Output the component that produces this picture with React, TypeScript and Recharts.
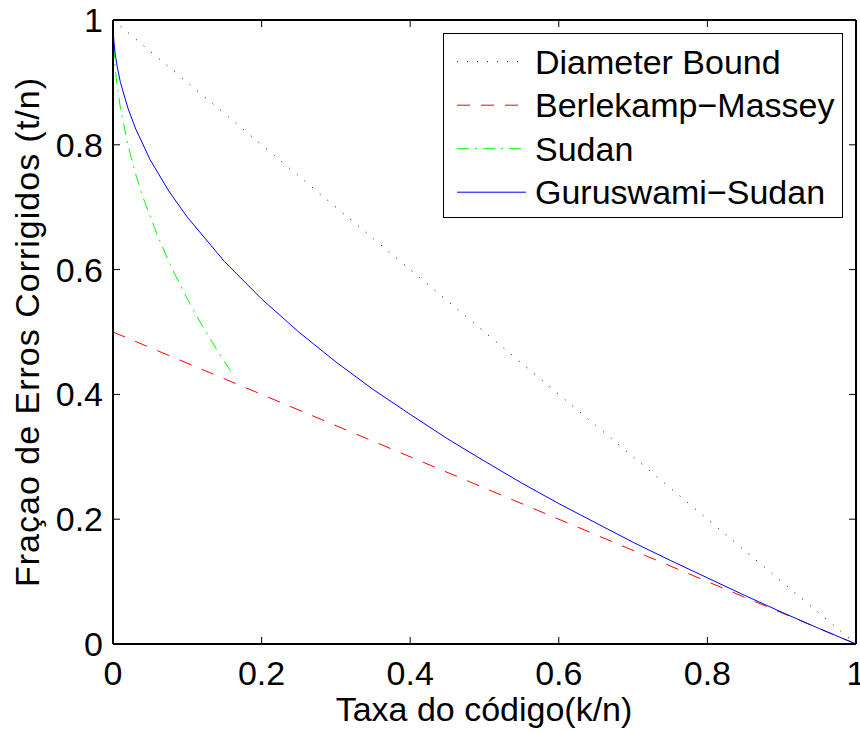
import { Legend, Line, LineChart, XAxis, YAxis } from "recharts";

// taxa do código (k/n) e fração de erros corrigidos (t/n)
const diameterX = [0, 1];
const diameterY = [1, 0];

const bmX = [0, 1];
const bmY = [0.5, 0];

const sudanX = [0, 0.002, 0.005, 0.01, 0.02, 0.03, 0.04, 0.06, 0.08, 0.1, 0.12, 0.14, 0.163];
const sudanY = [1, 0.937, 0.9, 0.859, 0.8, 0.755, 0.717, 0.654, 0.6, 0.553, 0.51, 0.471, 0.429];

const gsX = [
  0, 0.001, 0.003, 0.006, 0.01, 0.02, 0.03, 0.05, 0.075, 0.1, 0.15, 0.2, 0.25, 0.3, 0.35, 0.4,
  0.45, 0.5, 0.55, 0.6, 0.65, 0.7, 0.75, 0.8, 0.85, 0.9, 0.95, 1,
];
const gsY = [
  1, 0.968, 0.945, 0.923, 0.9, 0.859, 0.827, 0.776, 0.726, 0.684, 0.613, 0.553, 0.5, 0.452, 0.408,
  0.368, 0.329, 0.293, 0.258, 0.225, 0.194, 0.163, 0.134, 0.106, 0.078, 0.051, 0.025, 0,
];

const xTicks = [0, 0.2, 0.4, 0.6, 0.8, 1];
const yTicks = [0, 0.2, 0.4, 0.6, 0.8, 1];

const toPoints = (xs: number[], ys: number[]) => xs.map((x, i) => ({ x, y: ys[i] }));

// a primeira série fica presa aos eixos de cima/direita para que a caixa seja desenhada
const series = [
  { name: "Diameter Bound", color: "#000000", dash: "1 9", data: toPoints(diameterX, diameterY), xId: "top", yId: "right" },
  { name: "Berlekamp\u2212Massey", color: "#ff0000", dash: "13 11", data: toPoints(bmX, bmY), xId: 0, yId: 0 },
  { name: "Sudan", color: "#00ff00", dash: "12 6 2 6", data: toPoints(sudanX, sudanY), xId: 0, yId: 0 },
  { name: "Guruswami\u2212Sudan", color: "#0000ff", dash: undefined, data: toPoints(gsX, gsY), xId: 0, yId: 0 },
];

const FONT = "'Liberation Sans', Arial, Helvetica, sans-serif";
const FS = 34;

// eixos de 1px: com tickSize 0 o (x, y) do tick cai sobre a linha do eixo
function BottomTick({ x, y, payload }: any) {
  return (
    <g>
      <line x1={x} x2={x} y1={y} y2={y - 7} stroke="#000" strokeWidth={1} />
      <text x={x} y={y + 41} textAnchor="middle" fontSize={FS} fontFamily={FONT} fill="#000">
        {String(payload.value)}
      </text>
    </g>
  );
}

function TopTick({ x, y }: any) {
  return <line x1={x} x2={x} y1={y} y2={y + 7} stroke="#000" strokeWidth={1} />;
}

function LeftTick({ x, y, payload }: any) {
  return (
    <g>
      <line x1={x} x2={x + 7} y1={y} y2={y} stroke="#000" strokeWidth={1} />
      <text x={x - 10} y={y + 12} textAnchor="end" fontSize={FS} fontFamily={FONT} fill="#000">
        {String(payload.value)}
      </text>
    </g>
  );
}

function RightTick({ x, y }: any) {
  return <line x1={x} x2={x - 7} y1={y} y2={y} stroke="#000" strokeWidth={1} />;
}

function LegendBox() {
  return (
    <svg width={400} height={185} style={{ display: "block" }}>
      <rect x={0.5} y={0.5} width={399} height={184} fill="#fff" stroke="#000" strokeWidth={1} />
      {series.map((s, i) => {
        const cy = 28.7 + i * 43.5;
        return (
          <g key={s.name}>
            <line x1={14} x2={83} y1={cy} y2={cy} stroke={s.color} strokeWidth={1} strokeDasharray={s.dash} />
            <text x={92} y={cy + 12} fontSize={FS} fontFamily={FONT} fill="#000">
              {s.name}
            </text>
          </g>
        );
      })}
    </svg>
  );
}

const axisLine = { stroke: "#000", strokeWidth: 2 };

export default function App() {
  return (
    <div style={{ position: "absolute", left: 0, top: 0, width: 860, height: 732, background: "#fff" }}>
      <LineChart width={860} height={732} margin={{ top: 19, right: 3, bottom: 87, left: 112 }}>
        <XAxis
          dataKey="x"
          type="number"
          domain={[0, 1]}
          ticks={xTicks}
          height={1}
          tickSize={0}
          tickMargin={0}
          tickLine={false}
          axisLine={axisLine}
          tick={<BottomTick />}
        />
        <XAxis
          xAxisId="top"
          orientation="top"
          dataKey="x"
          type="number"
          domain={[0, 1]}
          ticks={xTicks}
          height={1}
          tickSize={0}
          tickMargin={0}
          tickLine={false}
          axisLine={axisLine}
          tick={<TopTick />}
        />
        <YAxis
          type="number"
          domain={[0, 1]}
          ticks={yTicks}
          width={1}
          tickSize={0}
          tickMargin={0}
          tickLine={false}
          axisLine={axisLine}
          tick={<LeftTick />}
        />
        <YAxis
          yAxisId="right"
          orientation="right"
          type="number"
          domain={[0, 1]}
          ticks={yTicks}
          width={1}
          tickSize={0}
          tickMargin={0}
          tickLine={false}
          axisLine={axisLine}
          tick={<RightTick />}
        />
        {series.map((s) => (
          <Line
            key={s.name}
            xAxisId={s.xId}
            yAxisId={s.yId}
            data={s.data}
            dataKey="y"
            name={s.name}
            type="linear"
            stroke={s.color}
            strokeWidth={1}
            strokeDasharray={s.dash}
            dot={false}
            activeDot={false}
            isAnimationActive={false}
          />
        ))}
        <Legend
          layout="vertical"
          align="center"
          verticalAlign="middle"
          content={() => <LegendBox />}
          wrapperStyle={{ left: 443, top: 33, width: 400, height: 185 }}
        />
      </LineChart>
      <svg
        width={860}
        height={732}
        style={{ position: "absolute", left: 0, top: 0, pointerEvents: "none" }}
      >
        <text x={484} y={721} textAnchor="middle" fontSize={FS} fontFamily={FONT} fill="#000">
          Taxa do código(k/n)
        </text>
        <text
          x={39}
          y={332}
          textAnchor="middle"
          fontSize={FS}
          fontFamily={FONT}
          fill="#000"
          letterSpacing={1}
          transform="rotate(-90 39 332)"
        >
          Fraçao de Erros Corrigidos (t/n)
        </text>
      </svg>
    </div>
  );
}
